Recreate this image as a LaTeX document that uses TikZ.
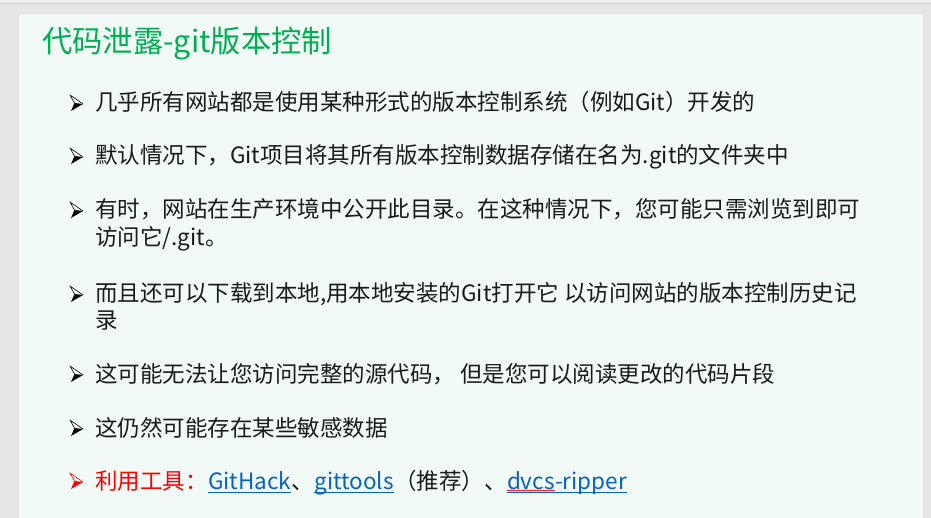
\documentclass[tikz,border=0pt]{standalone}
\usepackage{fontspec}
\setmainfont{Noto Sans CJK SC}
\usetikzlibrary{positioning,decorations.pathmorphing}

\definecolor{outergray}{HTML}{E6E6E6}
\definecolor{slidebg}{HTML}{F2FAF8}
\definecolor{titlegreen}{HTML}{00B050}
\definecolor{linkblue}{HTML}{0563C1}
\definecolor{bodyblack}{HTML}{1A1A1A}

\begin{document}
\begin{tikzpicture}[
      x=1pt, y=-1pt,
      every node/.style={inner sep=0pt},
      title/.style={
        anchor=base west,
        text=titlegreen,
        font=\fontsize{30.3}{30}\selectfont
      },
      item/.style={
        anchor=base west,
        text=bodyblack,
        font=\fontsize{22.5}{27}\selectfont
      },
      bullet/.style={
        minimum width=14pt,
        minimum height=18pt,
        path picture={
          \coordinate (c) at (path picture bounding box.center);
          \fill[#1] ([shift={(-2,0)}]c) -- ([shift={(6.5,1)}]c) -- ([shift={(-5.5,8)}]c) -- cycle;
          \draw[#1, line width=0.6pt] ([shift={(-2,0)}]c) -- ([shift={(-6.5,-8)}]c) -- ([shift={(6.5,1)}]c);
        }
      },
      bullet/.default=black,
      link/.style={
        anchor=base west,
        text=linkblue,
        font=\fontsize{22.5}{27}\selectfont
      },
      linkline/.style={
        draw=linkblue,
        line width=1pt
      },
    ]

    \useasboundingbox (0,0) rectangle (931,518);
    \fill[outergray] (0,0) rectangle (931,518);
    \fill[white!94!black] (0,0) rectangle (931,3);
    \draw[black!18] (0,3.5) -- (931,3.5);
    \fill[slidebg] (18,13) rectangle (923,525);
    \draw[black!12] (18,525) -- (18,13) -- (923,13) -- (923,525);

    \node[title] (T) at (42,53) {代码泄露-git版本控制};

    \node [bullet] (b1) at (76.5,103) {};
    \node [item] (l1) at (95,111) {几乎所有网站都是使用某种形式的版本控制系统（例如Git）开发的};

    \node [bullet] (b2) at (76.5,156) {};
    \node [item] (l2) at (95,164) {默认情况下，Git项目将其所有版本控制数据存储在名为.git的文件夹中};

    \node [bullet] (b3) at (76.5,210) {};
    \node [item] (l3) at (95,218) {有时，网站在生产环境中公开此目录。在这种情况下，您可能只需浏览到即可};
    \node [item] (l3b) at ([yshift=-28pt]l3.base west) {访问它/.git。};

    \node [bullet] (b4) at (76.5,294) {};
    \node [item] (l4) at (95,302) {而且还可以下载到本地,用本地安装的Git打开它 以访问网站的版本控制历史记};
    \node [item] (l4b) at ([yshift=-27pt]l4.base west) {录};

    \node [bullet] (b5) at (76.5,374) {};
    \node [item] (l5) at (95,382) {这可能无法让您访问完整的源代码， 但是您可以阅读更改的代码片段};

    \node [bullet] (b6) at (76.5,428) {};
    \node [item] (l6) at (95,436) {这仍然可能存在某些敏感数据};

    \node [bullet=red] (b7) at (76.5,481) {};
    \node [item, text=red] (tool) at (95,489) {利用工具：};
    \node [link] (githack) at (tool.base east) {GitHack};
    \node [item] (sep1) at (githack.base east) {、};
    \node [link] (gittools) at (sep1.base east) {gittools};
    \node [item] (rec) at (gittools.base east) {（推荐）、};
    \node [link] (dvcs) at (rec.base east) {dvcs};
    \node [link] (ripper) at (dvcs.base east) {-ripper};

    \draw [linkline] ([yshift=-3pt]githack.base west) -- ([yshift=-3pt]githack.base east);
    \draw [linkline] ([yshift=-3pt]gittools.base west) -- ([yshift=-3pt]gittools.base east);
    \draw [linkline] ([yshift=-3pt]dvcs.base west) -- ([yshift=-3pt]ripper.base east);
    \draw [red, line width=0.5pt, decorate, decoration={snake, amplitude=0.6pt, segment length=2pt}]
      ([yshift=-1.5pt]dvcs.base west) -- ([yshift=-1.5pt]dvcs.base east);
  \end{tikzpicture}
\end{document}
